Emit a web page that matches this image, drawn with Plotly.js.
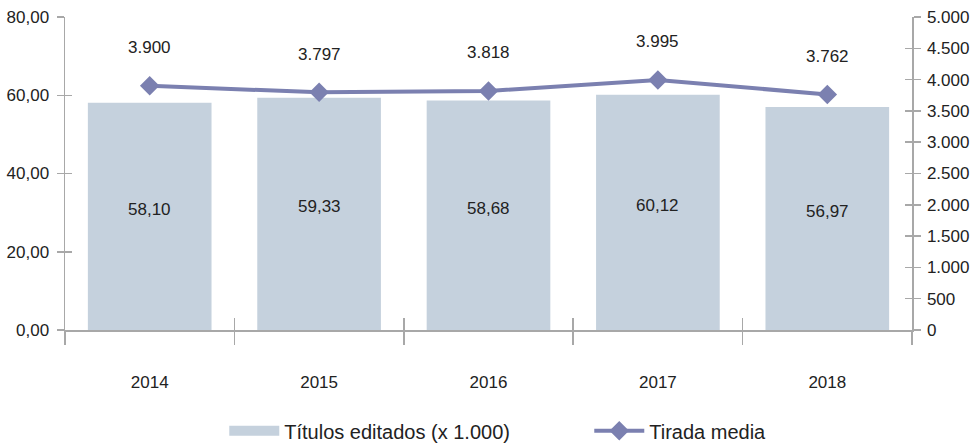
<!DOCTYPE html>
<html>
<head>
<meta charset="utf-8">
<script src="https://cdn.plot.ly/plotly-3.0.1.min.js"></script>
<style>html,body{margin:0;padding:0;background:#fff}#chart{width:974px;height:446px}</style>
</head>
<body>
<div id="chart"></div>
<script>
var years = ['2014', '2015', '2016', '2017', '2018'];
var titulos = [58.10, 59.33, 58.68, 60.12, 56.97];
var tirada = [3900, 3797, 3818, 3995, 3762];
var leftTicks = [0, 20, 40, 60, 80];
var rightTicks = [0, 500, 1000, 1500, 2000, 2500, 3000, 3500, 4000, 4500, 5000];

var barColor = '#c5d1dd';
var lineColor = '#7b80b0';
var axisColor = '#a8a8a8';
var textColor = '#222222';
var FONT = 'Liberation Sans, Arial, sans-serif';

function fmtDec(v) { return v.toFixed(2).replace('.', ','); }
function fmtThou(v) { return String(v).replace(/\B(?=(\d{3})+(?!\d))/g, '.'); }

var traces = [
  {
    type: 'bar', x: years, y: titulos, marker: {color: barColor},
    name: 'Títulos editados (x 1.000)', showlegend: false, hoverinfo: 'x+y'
  },
  {
    type: 'scatter', mode: 'lines', x: years, y: years.map(function(){return null;}),
    xaxis: 'x2', yaxis: 'y3',
    name: 'Títulos editados (x 1.000)', line: {color: barColor, width: 12}, showlegend: true
  },
  {
    type: 'scatter', mode: 'lines+markers', x: years, y: tirada, yaxis: 'y2',
    name: 'Tirada media', line: {color: lineColor, width: 4},
    marker: {symbol: 'diamond', size: 15, color: lineColor}
  },
  {
    type: 'scatter', mode: 'lines', x: years, y: years.map(function(){return null;}),
    xaxis: 'x2', yaxis: 'y4', showlegend: false, hoverinfo: 'skip'
  }
];

var annotations = [];
years.forEach(function(yr, i) {
  annotations.push({x: i, y: tirada[i], xref: 'x', yref: 'y2', text: fmtThou(tirada[i]),
    showarrow: false, yshift: 38, font: {size: 17, color: textColor, family: FONT}});
  annotations.push({x: i, y: titulos[i] / 2, xref: 'x', yref: 'y', text: fmtDec(titulos[i]),
    showarrow: false, yshift: 7, font: {size: 17, color: textColor, family: FONT}});
});

var layout = {
  width: 974, height: 446,
  margin: {l: 65, r: 62, t: 17, b: 116},
  paper_bgcolor: '#fff', plot_bgcolor: '#fff',
  separators: ',.',
  font: {family: FONT, size: 17, color: textColor},
  bargap: 0.27,
  showlegend: true,
  legend: {orientation: 'h', xref: 'container', yref: 'container', x: 0.605, xanchor: 'center',
    y: 0.034, yanchor: 'middle',
    font: {size: 20, color: textColor, family: FONT}, itemwidth: 50, entrywidth: 300, traceorder: 'normal'},
  xaxis: {
    type: 'category', categoryorder: 'array', categoryarray: years, range: [-0.5, 4.5],
    showline: true, linecolor: axisColor, linewidth: 1.5,
    ticks: 'outside', tickson: 'boundaries', ticklen: 13, tickcolor: axisColor, tickwidth: 1.5,
    ticklabelstandoff: 36, showgrid: false, zeroline: false,
    tickfont: {size: 17, color: textColor}
  },
  xaxis2: {
    type: 'category', categoryorder: 'array', categoryarray: years, range: [-0.5, 4.5],
    overlaying: 'x', anchor: 'y', showline: false,
    ticks: 'inside', tickson: 'boundaries', ticklen: 12, tickcolor: axisColor, tickwidth: 1.5,
    showticklabels: false, showgrid: false, zeroline: false
  },
  yaxis: {
    range: [0, 80], tickvals: leftTicks, tickformat: '.2f',
    showline: true, linecolor: axisColor, linewidth: 1.5,
    ticks: 'outside', ticklen: 7, tickcolor: axisColor, tickwidth: 1.5,
    ticklabelstandoff: 4, showgrid: false, zeroline: false,
    tickfont: {size: 17, color: textColor}
  },
  yaxis3: {
    range: [0, 80], tickvals: leftTicks, overlaying: 'y', side: 'left', anchor: 'x',
    showline: false, ticks: 'inside', ticklen: 7, tickcolor: axisColor, tickwidth: 1.5,
    showticklabels: false, showgrid: false, zeroline: false
  },
  yaxis2: {
    range: [0, 5000], tickvals: rightTicks, tickformat: ',d', overlaying: 'y', side: 'right', anchor: 'x',
    showline: true, linecolor: axisColor, linewidth: 1.5,
    ticks: 'outside', ticklen: 7, tickcolor: axisColor, tickwidth: 1.5,
    ticklabelstandoff: 3, showgrid: false, zeroline: false,
    tickfont: {size: 17, color: textColor}
  },
  yaxis4: {
    range: [0, 5000], tickvals: rightTicks, overlaying: 'y', side: 'right', anchor: 'x',
    showline: false, ticks: 'inside', ticklen: 7, tickcolor: axisColor, tickwidth: 1.5,
    showticklabels: false, showgrid: false, zeroline: false
  },
  annotations: annotations
};

Plotly.newPlot('chart', traces, layout, {displayModeBar: false, staticPlot: true});
</script>
</body>
</html>
